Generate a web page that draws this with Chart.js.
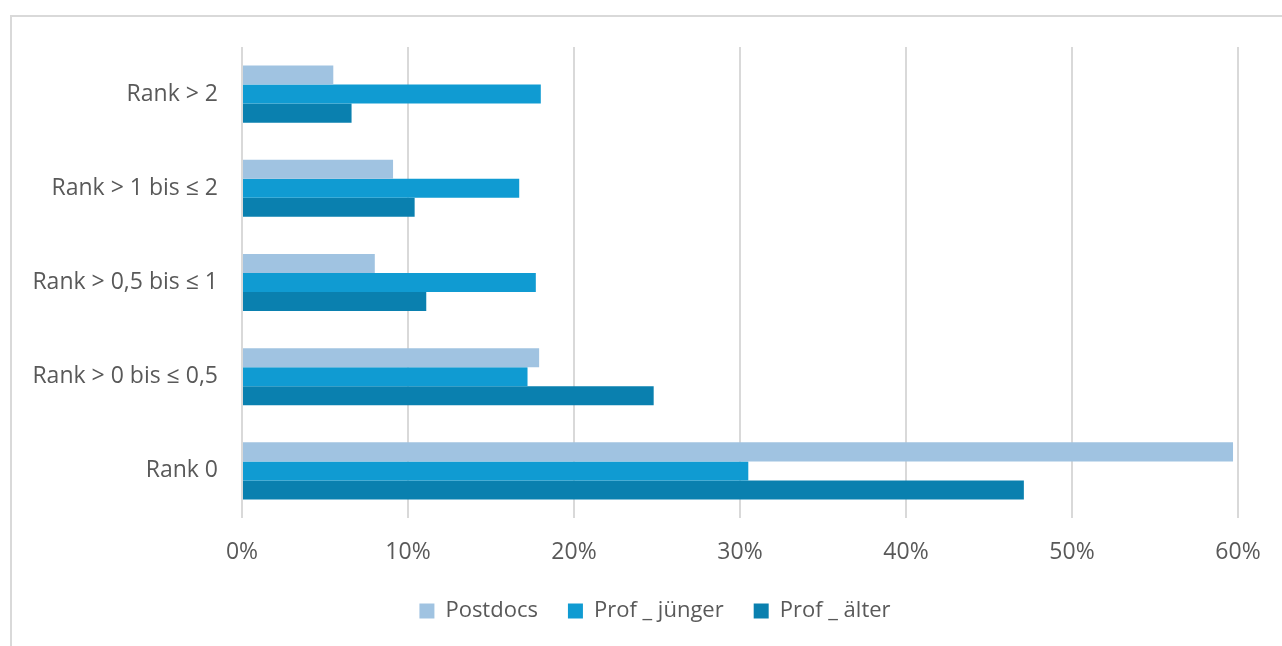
<!DOCTYPE html>
<html lang="de">
<head>
    <meta charset="UTF-8">
    <title>Rank-Verteilung</title>
    <script src="https://cdn.jsdelivr.net/npm/chart.js"></script>
    <style>
        html, body { margin: 0; padding: 0; background: #fff; overflow: hidden; }
        #rahmen {
            position: absolute; left: 10px; top: 15px; right: -5px; bottom: -5px;
            border-top: 2px solid #D9D9D9; border-left: 2px solid #D9D9D9;
        }
        #grafik { position: absolute; left: 0; top: 0; }
    </style>
</head>
<body>
    <div id="rahmen"></div>
    <canvas id="grafik" width="1282" height="646"></canvas>

    <script>
        // Daten
        const kategorien = ['Rank > 2', 'Rank > 1 bis ≤ 2', 'Rank > 0,5 bis ≤ 1', 'Rank > 0 bis ≤ 0,5', 'Rank 0'];
        const postdocs   = [0.055, 0.091, 0.080, 0.179, 0.597];
        const profJung   = [0.180, 0.167, 0.177, 0.172, 0.305];
        const profAlt    = [0.066, 0.104, 0.111, 0.248, 0.471];

        const schrift = "'Open Sans', sans-serif";
        const grau = '#595959';

        // Legende etwas nach rechts schieben (wie im Original)
        const legendeVerschieben = {
            id: 'legendeVerschieben',
            afterLayout(chart) {
                chart.legend.left += 36;
                chart.legend.right += 36;
            }
        };

        let ctx = document.getElementById('grafik').getContext('2d');

        let grafik = new Chart(ctx, {
            type: 'bar',
            data: {
                labels: kategorien,
                datasets: [{
                    label: 'Postdocs',
                    data: postdocs,
                    backgroundColor: '#A0C3E1'
                }, {
                    label: 'Prof _ jünger',
                    data: profJung,
                    backgroundColor: '#109BD2'
                }, {
                    label: 'Prof _ älter',
                    data: profAlt,
                    backgroundColor: '#0A80AF'
                }]
            },
            plugins: [legendeVerschieben],
            options: {
                indexAxis: 'y',
                responsive: false,
                animation: false,
                categoryPercentage: 0.606,
                barPercentage: 1.0,
                layout: { padding: { top: 47, right: 44, bottom: 14, left: 0 } },
                plugins: {
                    tooltip: { enabled: false },
                    legend: {
                        position: 'bottom',
                        labels: {
                            color: grau,
                            font: { family: schrift, size: 22 },
                            boxWidth: 15,
                            boxHeight: 15,
                            padding: 30
                        }
                    }
                },
                scales: {
                    x: {
                        min: 0,
                        max: 0.6,
                        ticks: {
                            stepSize: 0.1,
                            color: grau,
                            font: { family: schrift, size: 23 },
                            padding: 21,
                            callback: v => Math.round(v * 100) + '%'
                        },
                        grid: { color: '#D9D9D9', lineWidth: 2, drawTicks: false },
                        border: { display: false },
                        afterFit: s => { s.height = 52; }
                    },
                    y: {
                        ticks: {
                            color: grau,
                            font: { family: schrift, size: 23 },
                            padding: 16
                        },
                        grid: { display: false },
                        border: { display: false },
                        afterFit: s => { s.width = 242; }
                    }
                }
            }
        });
    </script>
</body>
</html>
